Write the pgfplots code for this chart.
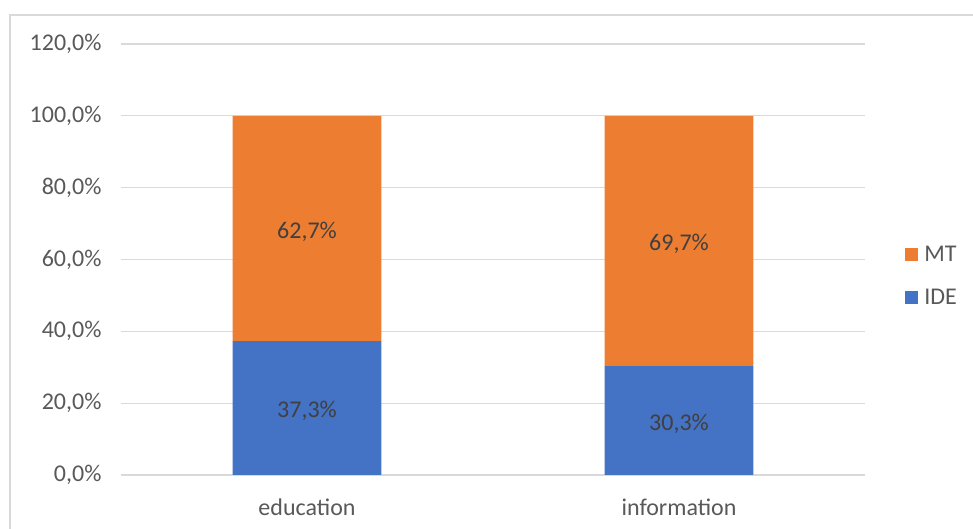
\documentclass[border=0pt]{standalone}
\usepackage{fontspec}
\setmainfont{Carlito}
\usepackage{pgfplots}
\pgfplotsset{compat=1.18}
\definecolor{mtorange}{HTML}{ED7D31}
\definecolor{ideblue}{HTML}{4472C4}
\definecolor{gridgray}{HTML}{D9D9D9}
\definecolor{ticktext}{HTML}{595959}
\definecolor{labeltext}{HTML}{404040}
\newcommand{\cfont}{\fontsize{24pt}{28pt}\selectfont}
\pgfplotsset{
  chartbase/.style={
    at={(0pt,0pt)}, anchor=south west,
    scale only axis, width=744pt, height=431pt,
    xmin=-0.5, xmax=1.5, ymin=0, ymax=120,
  }
}
\begin{document}
\begin{tikzpicture}
\useasboundingbox (-121pt,-54pt) rectangle (852pt,475pt);
\fill[white] (-121pt,-54pt) rectangle (852pt,475pt);
\draw[gridgray, line width=1.2pt] (-111pt,-60pt) -- (-111pt,460pt) -- (860pt,460pt);
\begin{axis}[
  chartbase,
  ybar stacked, bar width=0.4,
  xtick={0,1}, xticklabels={education,information},
  ytick={0,20,40,60,80,100,120},
  yticklabels={{0,0\%},{20,0\%},{40,0\%},{60,0\%},{80,0\%},{100,0\%},{120,0\%}},
  ymajorgrids, grid style={gridgray, line width=1.2pt},
  axis line style={draw=none},
  major tick length=0pt, tick style={draw=none},
  tick label style={font=\cfont, text=ticktext},
  yticklabel style={xshift=-16pt},
  xticklabel style={yshift=-20pt},
  legend style={at={(1.05,0.462)}, anchor=west, draw=none, fill=none, font=\cfont, text=ticktext, row sep=22pt,
    /tikz/every odd column/.style={column sep=4pt}},
  legend cell align=left,
  reverse legend,
]
\addplot[fill=ideblue, draw=none, legend image code/.code={\fill[ideblue] (0pt,-6.5pt) rectangle (13pt,6.5pt);}] coordinates {(0,37.3) (1,30.3)};
\addplot[fill=mtorange, draw=none, legend image code/.code={\fill[mtorange] (0pt,-6.5pt) rectangle (13pt,6.5pt);}] coordinates {(0,62.7) (1,69.7)};
\legend{IDE,MT}
\end{axis}
\begin{axis}[
  chartbase,
  hide axis,
  nodes near coords, point meta=explicit symbolic,
  every node near coord/.append style={font=\cfont, text=labeltext, anchor=center, yshift=-3pt},
]
\addplot[only marks, mark=none] table[meta=label] {
x y label
0 18.65 37,3\%
1 15.15 30,3\%
0 68.65 62,7\%
1 65.15 69,7\%
};
\end{axis}
\end{tikzpicture}
\end{document}
